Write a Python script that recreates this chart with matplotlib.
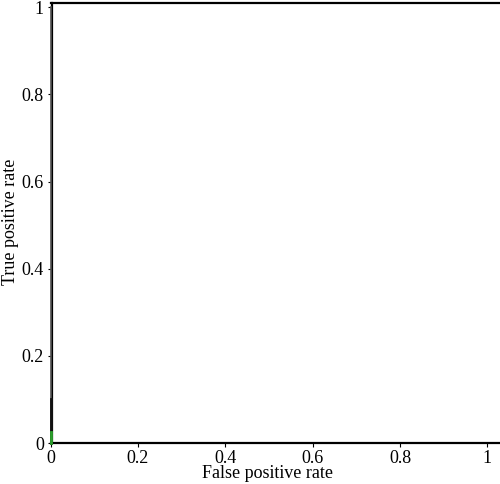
import matplotlib
matplotlib.use("Agg")
import matplotlib.pyplot as plt

fpr_main = [0.0, 0.0]
tpr_main = [0.0, 1.0]
fpr_dark = [0.0, 0.0]
tpr_dark = [0.0, 0.1]
fpr_green = [0.0, 0.0]
tpr_green = [0.0, 0.025]
tick_vals = [0, 0.2, 0.4, 0.6, 0.8, 1]
tick_labels = ["0", "0.2", "0.4", "0.6", "0.8", "1"]

plt.rcParams['font.family'] = ['Liberation Serif', 'DejaVu Serif']

W, H = 500, 484
fig = plt.figure(figsize=(5, 4.84), dpi=100)
left = 50.5 / W
bottom = (H - 443) / H
width = 450 / W
height = 440 / H
ax = fig.add_axes([left, bottom, width, height])

ax.plot(fpr_main, tpr_main, color='#555555', lw=1.2, clip_on=False, zorder=3)
ax.plot(fpr_dark, tpr_dark, color='#111111', lw=2.0, clip_on=False, zorder=4)
ax.plot(fpr_green, tpr_green, color='#2ca02c', lw=2.0, clip_on=False, zorder=5)

ax.set_xlim(0, 1.03)
ax.set_ylim(0, 1.01)
ax.spines['right'].set_visible(False)
for s in ['top', 'bottom', 'left']:
    ax.spines[s].set_linewidth(1.6)
ax.spines['left'].set_position(('outward', -1.2))

ax.set_xticks(tick_vals)
ax.set_xticklabels(tick_labels)
ax.set_yticks(tick_vals)
ax.set_yticklabels(tick_labels)
ax.tick_params(direction='out', length=3, width=0.8, labelsize=13)
ax.tick_params(axis='x', pad=2)
ax.tick_params(axis='y', pad=3)

ax.set_xlabel("False positive rate", fontsize=13)
ax.set_ylabel("True positive rate", fontsize=13)
ax.xaxis.set_label_coords((268 - 50.5) / 450, -(478.5 - 443) / 440)
ax.xaxis.label.set_va('baseline')
ax.yaxis.set_label_coords(-(50.5 - 2) / 450, (443 - 222) / 440)
ax.yaxis.label.set_va('top')

fig.savefig("out.png", dpi=100)
